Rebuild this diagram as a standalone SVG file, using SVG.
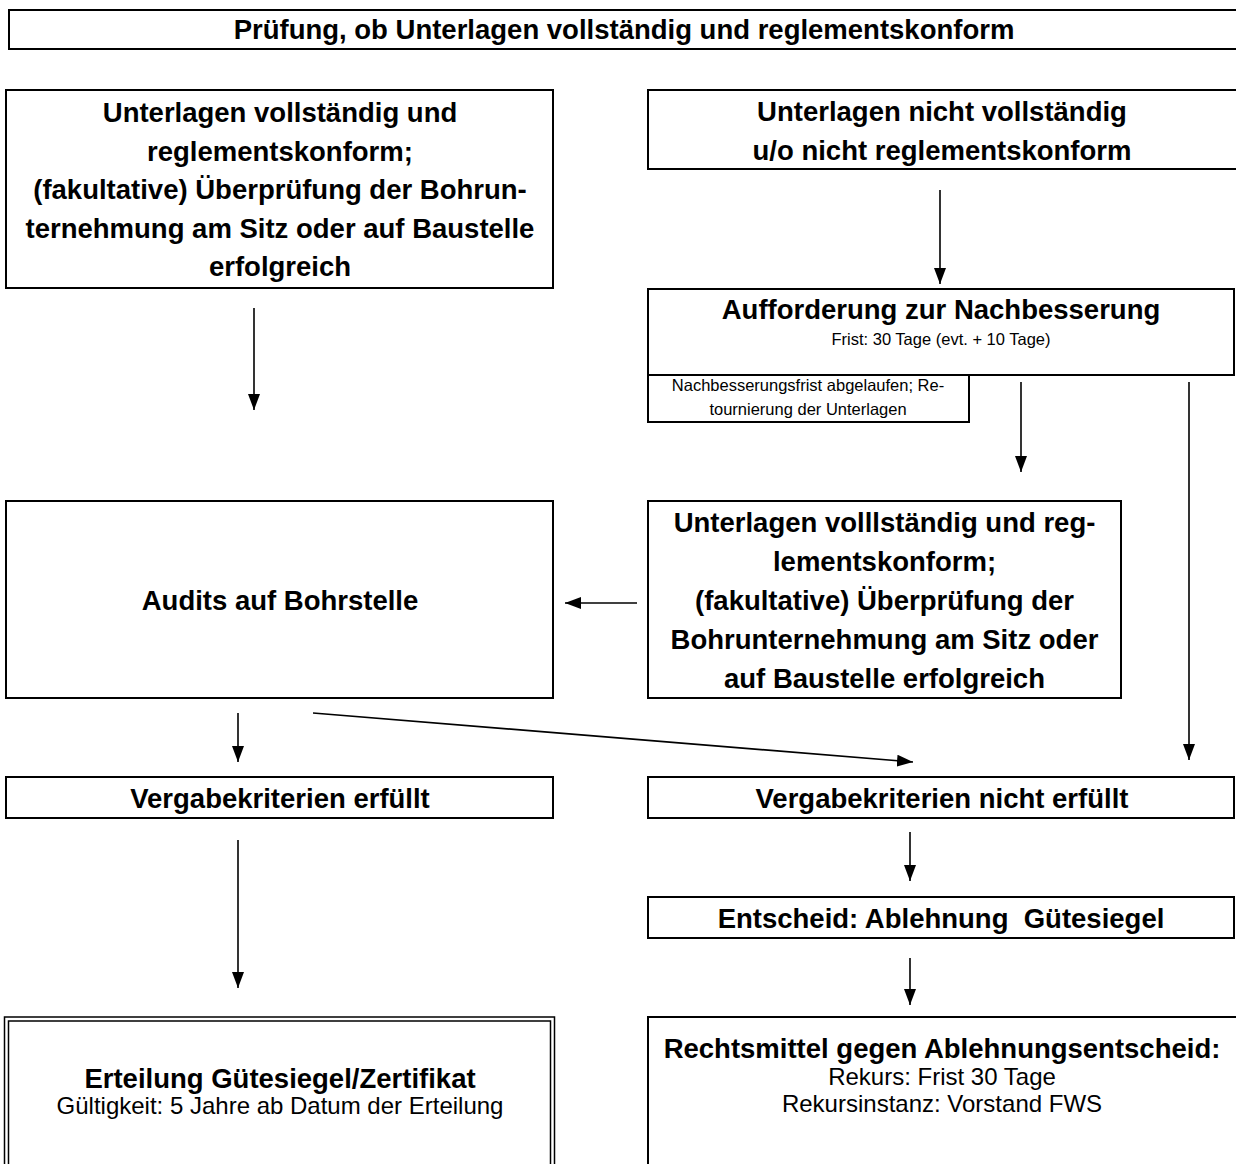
<svg xmlns="http://www.w3.org/2000/svg" width="1236" height="1164" viewBox="0 0 1236 1164">
<style>
  .box { fill: #ffffff; stroke: #000000; stroke-width: 2; }
  .thin { fill: none; stroke: #000000; stroke-width: 1.5; }
  .b { font-family: "Liberation Sans", Arial, sans-serif; font-weight: bold; font-size: 27.5px; fill: #000; text-anchor: middle; }
  .s { font-family: "Liberation Sans", Arial, sans-serif; font-size: 24px; fill: #000; text-anchor: middle; }
  .xs { font-family: "Liberation Sans", Arial, sans-serif; font-size: 16.5px; fill: #000; text-anchor: middle; }
  .con { fill: none; stroke: #000000; stroke-width: 1.6; marker-end: url(#ah); }
</style>
<defs>
  <marker id="ah" markerUnits="userSpaceOnUse" markerWidth="16" markerHeight="12" refX="16" refY="6" orient="auto">
    <path d="M0,0 L16,6 L0,12 Z" fill="#000"/>
  </marker>
</defs>
<rect x="0" y="0" width="1236" height="1164" fill="#ffffff"/>

<g id="n-pruefung">
  <rect class="box" x="9" y="10" width="1240" height="39"/>
  <text class="b" x="624" y="39">Prüfung, ob Unterlagen vollständig und reglementskonform</text>
</g>

<g id="n-vollstaendig">
  <rect class="box" x="6" y="90" width="547" height="198"/>
  <text class="b" x="280" y="122">Unterlagen vollständig und</text>
  <text class="b" x="280" y="160.5">reglementskonform;</text>
  <text class="b" x="280" y="199">(fakultative) Überprüfung der Bohrun-</text>
  <text class="b" x="280" y="237.5">ternehmung am Sitz oder auf Baustelle</text>
  <text class="b" x="280" y="276">erfolgreich</text>
</g>

<g id="n-nicht-vollstaendig">
  <rect class="box" x="648" y="90" width="600" height="79"/>
  <text class="b" x="942" y="121">Unterlagen nicht vollständig</text>
  <text class="b" x="942" y="160">u/o nicht reglementskonform</text>
</g>

<g id="n-nachbesserung">
  <rect class="box" x="648" y="289" width="586" height="86"/>
  <text class="b" x="941" y="319">Aufforderung zur Nachbesserung</text>
  <text class="xs" x="941" y="345">Frist: 30 Tage (evt. + 10 Tage)</text>
</g>

<g id="n-frist-abgelaufen">
  <rect class="box" x="648" y="375" width="321" height="47"/>
  <text class="xs" x="808" y="391">Nachbesserungsfrist abgelaufen; Re-</text>
  <text class="xs" x="808" y="415">tournierung der Unterlagen</text>
</g>

<g id="n-audits">
  <rect class="box" x="6" y="501" width="547" height="197"/>
  <text class="b" x="280" y="610">Audits auf Bohrstelle</text>
</g>

<g id="n-vollstaendig-2">
  <rect class="box" x="648" y="501" width="473" height="197"/>
  <text class="b" x="884.5" y="532">Unterlagen volllständig und reg-</text>
  <text class="b" x="884.5" y="571">lementskonform;</text>
  <text class="b" x="884.5" y="610">(fakultative) Überprüfung der</text>
  <text class="b" x="884.5" y="649">Bohrunternehmung am Sitz oder</text>
  <text class="b" x="884.5" y="688">auf Baustelle erfolgreich</text>
</g>

<g id="n-erfuellt">
  <rect class="box" x="6" y="777" width="547" height="41"/>
  <text class="b" x="280" y="808">Vergabekriterien erfüllt</text>
</g>

<g id="n-nicht-erfuellt">
  <rect class="box" x="648" y="777" width="586" height="41"/>
  <text class="b" x="942" y="808">Vergabekriterien nicht erfüllt</text>
</g>

<g id="n-ablehnung">
  <rect class="box" x="648" y="897" width="586" height="41"/>
  <text class="b" x="941" y="928" xml:space="preserve">Entscheid: Ablehnung  Gütesiegel</text>
</g>

<g id="n-erteilung">
  <rect class="thin" x="4.5" y="1017" width="550" height="170"/>
  <rect class="thin" x="8.5" y="1021" width="542" height="170"/>
  <text class="b" x="280" y="1088">Erteilung Gütesiegel/Zertifikat</text>
  <text class="s" x="280" y="1114">Gültigkeit: 5 Jahre ab Datum der Erteilung</text>
</g>

<g id="n-rechtsmittel">
  <rect class="box" x="648" y="1017" width="600" height="170"/>
  <text class="b" x="942" y="1058">Rechtsmittel gegen Ablehnungsentscheid:</text>
  <text class="s" x="942" y="1085">Rekurs: Frist 30 Tage</text>
  <text class="s" x="942" y="1112">Rekursinstanz: Vorstand FWS</text>
</g>

<g id="connectors">
  <line class="con" x1="940" y1="190" x2="940" y2="284"/>
  <line class="con" x1="254" y1="308" x2="254" y2="410"/>
  <line class="con" x1="1021" y1="382" x2="1021" y2="472"/>
  <line class="con" x1="1189" y1="382" x2="1189" y2="760"/>
  <line class="con" x1="637" y1="603" x2="565" y2="603"/>
  <line class="con" x1="238" y1="713" x2="238" y2="762"/>
  <line class="con" x1="313" y1="713" x2="913" y2="762"/>
  <line class="con" x1="910" y1="832" x2="910" y2="881"/>
  <line class="con" x1="238" y1="840" x2="238" y2="988"/>
  <line class="con" x1="910" y1="958" x2="910" y2="1005"/>
</g>
</svg>
